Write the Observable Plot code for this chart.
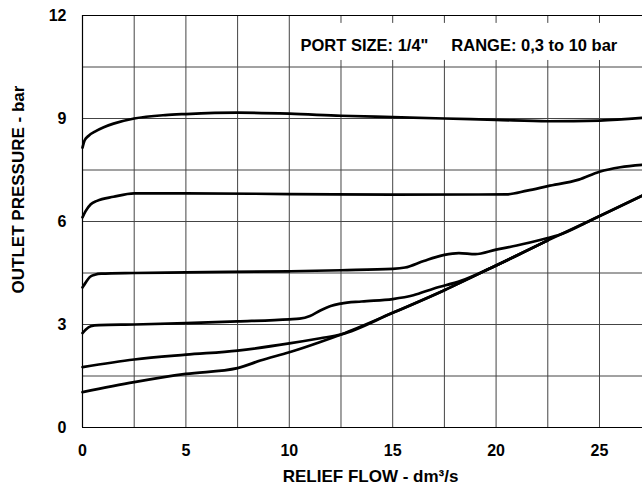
<!DOCTYPE html>
<html>
<head>
<meta charset="utf-8">
<script src="https://cdn.jsdelivr.net/npm/d3@7"></script>
<script src="https://cdn.jsdelivr.net/npm/@observablehq/plot@0.6"></script>
<style>
  html, body { margin: 0; padding: 0; background: #fff; }
  #chart { width: 642px; height: 488px; }
</style>
</head>
<body>
<div id="chart"></div>
<script>
// Tick labels and grid
const xTicks = [0, 5, 10, 15, 20, 25];
const yTicks = [0, 3, 6, 9, 12];
const xGrid = [2.5, 5, 7.5, 10, 12.5, 15, 17.5, 20, 22.5, 25];
const yGrid = [1.5, 3, 4.5, 6, 7.5, 9, 10.5];

// Curves: relief flow (dm3/s) vs outlet pressure (bar)
const c1x = [0, 0.1, 0.3, 0.6, 1, 1.5, 2.5, 4, 5, 7.5, 10, 12.5, 15, 17.5, 20, 22.5, 25, 27.1];
const c1y = [8.15, 8.36, 8.5, 8.62, 8.74, 8.85, 9.0, 9.1, 9.13, 9.17, 9.14, 9.08, 9.04, 9.0, 8.96, 8.92, 8.94, 9.02];

const c2x = [0, 0.15, 0.4, 0.7, 1.5, 2.5, 5, 10, 15, 20.5, 21.5, 22.5, 24, 25, 26, 27.1];
const c2y = [6.12, 6.3, 6.5, 6.6, 6.72, 6.82, 6.82, 6.8, 6.78, 6.79, 6.9, 7.03, 7.22, 7.45, 7.58, 7.65];

const c3x = [0, 0.15, 0.35, 0.6, 0.9, 2.5, 5, 10, 12.5, 15, 15.6, 16.5, 17.5, 18.2, 19, 20, 21, 22.5, 23, 24.56, 27.1];
const c3y = [4.08, 4.22, 4.38, 4.45, 4.48, 4.5, 4.52, 4.55, 4.58, 4.62, 4.66, 4.85, 5.03, 5.08, 5.05, 5.18, 5.3, 5.52, 5.6, 6.03, 6.76];

const c4x = [0, 0.15, 0.4, 0.8, 2.5, 5, 7.5, 10, 10.5, 11.0, 11.5, 12.0, 12.5, 13.5, 15, 16, 17, 18.3, 20, 22.5];
const c4y = [2.75, 2.85, 2.95, 2.98, 3.0, 3.04, 3.09, 3.15, 3.17, 3.25, 3.41, 3.54, 3.61, 3.67, 3.74, 3.85, 4.05, 4.27, 4.72, 5.45];

const c5x = [0, 2.5, 5, 7.5, 10, 11.5, 12.5, 15, 17.5, 20, 22.5];
const c5y = [1.76, 1.98, 2.12, 2.24, 2.45, 2.6, 2.71, 3.34, 4.0, 4.72, 5.45];

const c6x = [0, 2.5, 5, 7.5, 8.6, 10, 11.5, 12.5, 15, 17.5, 20, 22.5, 24.56, 27.1];
const c6y = [1.03, 1.32, 1.56, 1.73, 1.95, 2.19, 2.49, 2.71, 3.34, 4.0, 4.72, 5.45, 6.03, 6.76];

const noteText = "PORT SIZE: 1/4\"\u00a0\u00a0\u00a0\u00a0\u00a0RANGE: 0,3 to 10 bar";
const noteBox = [{x1: 10.2, x2: 27.1, y1: 10.69, y2: 11.77}];
const notePos = {x: 10.54, y: 11.13};

const xLabel = "RELIEF FLOW - dm³/s";
const yLabel = "OUTLET PRESSURE - bar";

const series = [[c1x, c1y], [c2x, c2y], [c3x, c3y], [c4x, c4y], [c5x, c5y], [c6x, c6y]];
const rows = series.flatMap(([xs, ys], i) => xs.map((x, j) => ({s: i, x, y: ys[j]})));

const font = "'Liberation Sans', Arial, Helvetica, sans-serif";

const chart = Plot.plot({
  width: 642,
  height: 488,
  marginLeft: 82,
  marginRight: 0,
  marginTop: 15,
  marginBottom: 61,
  style: {fontFamily: font, fontSize: "16px", fontWeight: "bold", color: "#000", background: "#fff"},
  x: {domain: [0, 27.08]},
  y: {domain: [0, 12]},
  marks: [
    Plot.ruleX(xGrid, {stroke: "#444", strokeWidth: 1, strokeOpacity: 1}),
    Plot.ruleY(yGrid, {stroke: "#444", strokeWidth: 1, strokeOpacity: 1}),
    Plot.rect(noteBox, {x1: "x1", x2: "x2", y1: "y1", y2: "y2", fill: "#fff"}),
    Plot.text([noteText], {x: [notePos.x], y: [notePos.y], textAnchor: "start", lineAnchor: "middle", fontSize: 16.5, fontWeight: "bold", fill: "#000"}),
    Plot.ruleX([0], {stroke: "#000", strokeWidth: 1.2}),
    Plot.ruleY([0, 12], {stroke: "#000", strokeWidth: 1.2}),
    Plot.line(rows, {x: "x", y: "y", z: "s", stroke: "#000", strokeWidth: 2.7, curve: "monotone-x"}),
    Plot.axisX({ticks: xTicks, tickSize: 0, tickPadding: 17, label: null, fontSize: 16, fontWeight: "bold"}),
    Plot.axisY({ticks: yTicks, tickSize: 0, tickPadding: 16, label: null, fontSize: 16, fontWeight: "bold"}),
    Plot.text([xLabel], {x: [13.93], frameAnchor: "bottom", dy: 49, textAnchor: "middle", lineAnchor: "middle", fontSize: 17, fontWeight: "bold"}),
    Plot.text([yLabel], {frameAnchor: "left", rotate: -90, dx: -64, dy: -32, textAnchor: "middle", lineAnchor: "middle", fontSize: 17, fontWeight: "bold"})
  ]
});
document.getElementById("chart").appendChild(chart);
</script>
</body>
</html>
